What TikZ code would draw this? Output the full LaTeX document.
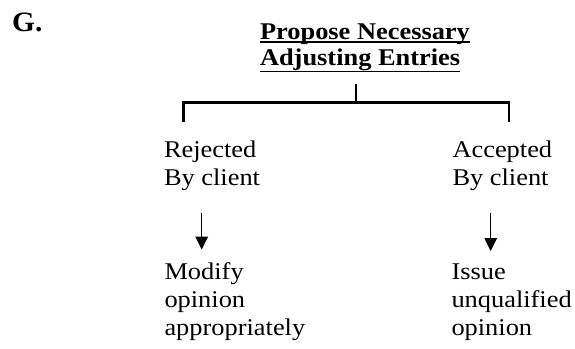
\documentclass[tikz,border=0pt]{standalone}
\usepackage{fontspec}
\setmainfont{Liberation Serif}[FakeStretch=1.1]
\newfontfamily\gfont{Liberation Serif}[FakeStretch=1.05]
\usetikzlibrary{arrows.meta}
\begin{document}
\begin{tikzpicture}[x=1pt,y=-1pt,
  txt/.style={anchor=base west,inner sep=0pt,outer sep=0pt,align=left,
    font=\fontsize{24}{28}\selectfont},
  ttl/.style={anchor=base west,inner sep=0pt,outer sep=0pt,
    font=\fontsize{24}{26}\selectfont\bfseries},
  brk/.style={line width=2.6pt,line cap=butt,line join=miter},
  ul/.style={line width=1.8pt},
  arr/.style={line width=1.5pt,-{Triangle[width=12.5pt,length=13pt]}}]
\useasboundingbox (0,0) rectangle (575,348);
\node[anchor=base west,inner sep=0pt,font=\gfont\fontsize{28}{30}\selectfont\bfseries] (g) at (12,31.5) {G.};
\node[ttl] (t1) at (260,39.5) {Propose Necessary};
\node[ttl] (t2) at (260,65.5) {Adjusting Entries};
\draw[ul] ([yshift=-2.5pt]t1.base west) -- ([yshift=-2.5pt]t1.base east);
\draw[ul] ([yshift=-6pt]t2.base west) -- ([yshift=-6pt]t2.base east);
\coordinate (stemtop) at (356,84);
\coordinate (bl) at (183.3,122);
\coordinate (br) at (509,122);
\coordinate (bar) at (356,102.3);
\draw[brk] (stemtop) -- (bar);
\draw[brk] (bl) |- (bar) -| (br);
\node[txt] (rej) at (164,185) {Rejected\\By client};
\node[txt] (acc) at (452.5,185) {Accepted\\By client};
\node[txt] (mod) at (164.5,335) {Modify\\opinion\\appropriately};
\node[txt] (iss) at (451.5,335) {Issue\\unqualified\\opinion};
\coordinate (a1s) at (201.7,212.7);
\coordinate (a1e) at (201.7,249.5);
\coordinate (a2s) at (490.7,212.7);
\coordinate (a2e) at (490.7,251);
\draw[arr] (a1s) -- (a1e);
\draw[arr] (a2s) -- (a2e);
\end{tikzpicture}
\end{document}
